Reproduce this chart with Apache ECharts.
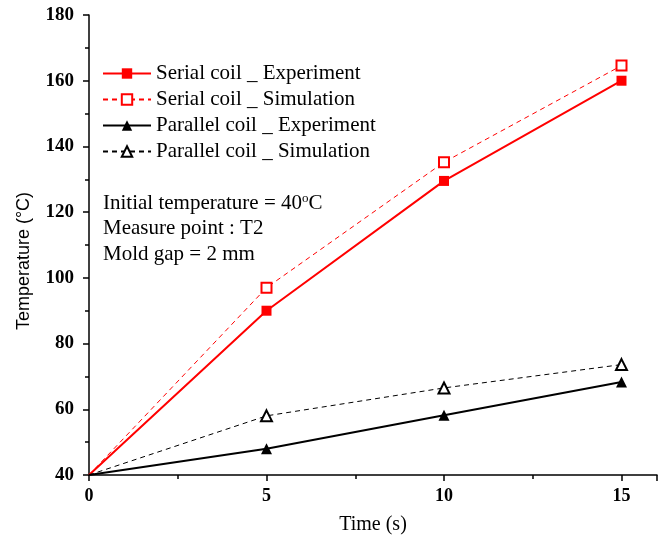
<!DOCTYPE html>
<html><head><meta charset="utf-8">
<script src="https://cdn.jsdelivr.net/npm/echarts@6/dist/echarts.min.js"></script>
<style>html,body{margin:0;padding:0;background:#fff}#c{width:664px;height:536px}</style>
</head><body><div id="c"></div>
<script>
const times = [0, 5, 10, 15];
const serialExp = [40, 90, 129.5, 160];
const serialSim = [40, 97, 135.2, 164.6];
const parallelExp = [40, 48, 58.2, 68.3];
const parallelSim = [40, 58, 66.5, 73.6];
const names = ['Serial coil _ Experiment','Serial coil _ Simulation','Parallel coil _ Experiment','Parallel coil _ Simulation'];
const notes = ['Initial temperature = 40{sup|o}C','Measure point : T2','Mold gap = 2 mm'];
const F = 'Liberation Serif';

function pts(vals){
  return vals.map((v,i)=> i===0 ? {value:[times[i],v], symbol:'none'} : [times[i],v]);
}
const chart = echarts.init(document.getElementById('c'));
chart.setOption({
  animation:false,
  backgroundColor:'#fff',
  grid:{left:89,right:7,top:15,bottom:61,containLabel:false,outerBoundsMode:'none'},
  xAxis:{type:'value',min:0,max:16,interval:5,
    name:'Time (s)',nameLocation:'middle',nameGap:40,
    nameTextStyle:{fontFamily:F,fontSize:20,color:'#000'},
    axisLine:{lineStyle:{color:'#000',width:1.5}},
    axisTick:{inside:false,length:6,lineStyle:{color:'#000',width:1.5}},
    minorTick:{show:true,splitNumber:2,length:4,lineStyle:{color:'#000',width:1.5}},
    splitLine:{show:false},
    axisLabel:{fontFamily:F,fontSize:18,fontWeight:'bold',color:'#000',margin:12,
      formatter:v=> (v%5===0 && v<=15) ? String(v) : ''}
  },
  yAxis:{type:'value',min:40,max:180,interval:20,
    name:'Temperature (°C)',nameLocation:'middle',nameGap:56,nameRotate:90,
    nameTextStyle:{fontFamily:'Liberation Sans',fontSize:18,color:'#000',padding:[0,32,0,0]},
    axisLine:{show:true,lineStyle:{color:'#000',width:1.5}},
    axisTick:{inside:false,length:6,lineStyle:{color:'#000',width:1.5}},
    minorTick:{show:true,splitNumber:2,length:4,lineStyle:{color:'#000',width:1.5}},
    splitLine:{show:false},
    axisLabel:{fontFamily:F,fontSize:19,fontWeight:'bold',color:'#000',margin:15}
  },
  legend:{orient:'vertical',left:97,top:58,itemWidth:48,itemHeight:13,itemGap:5,
    textStyle:{fontFamily:F,fontSize:21,color:'#000'},data:names},
  graphic:notes.map((t,i)=>({type:'text',left:103,top:192+i*26,
    style:{text:t,fontFamily:F,fontSize:21,fill:'#000',
      rich:{sup:{fontFamily:F,fontSize:13,verticalAlign:'top',padding:[0,0,9,0]}}}})),
  series:[
    {name:names[0],type:'line',data:pts(serialExp),symbol:'rect',symbolSize:10,
      itemStyle:{color:'#ff0000'},lineStyle:{color:'#ff0000',width:2}},
    {name:names[1],type:'line',data:pts(serialSim),symbol:'emptyRect',symbolSize:10,
      itemStyle:{color:'#ff0000',borderColor:'#e84040',borderWidth:1},lineStyle:{color:'#ff0000',width:1,type:[5,4]}},
    {name:names[2],type:'line',data:pts(parallelExp),symbol:'triangle',symbolSize:11,
      itemStyle:{color:'#000'},lineStyle:{color:'#000',width:2}},
    {name:names[3],type:'line',data:pts(parallelSim),symbol:'emptyTriangle',symbolSize:11,
      itemStyle:{color:'#000',borderWidth:1},lineStyle:{color:'#000',width:1,type:[5,4]}}
  ]
});
</script></body></html>
